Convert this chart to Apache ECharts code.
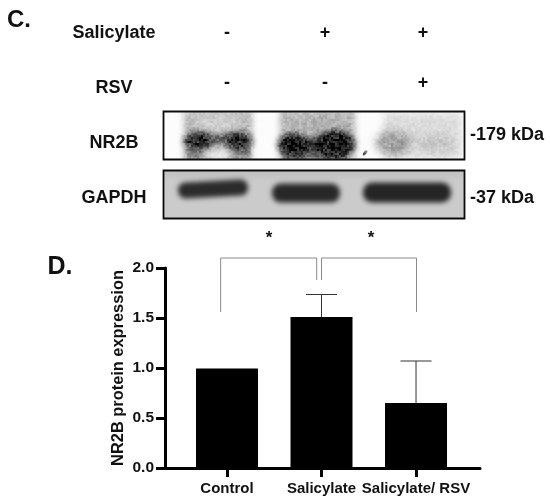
<!DOCTYPE html>
<html><head><meta charset="utf-8">
<style>html,body{margin:0;padding:0;background:#fff}#c{width:550px;height:502px}</style>
<script src="https://cdn.jsdelivr.net/npm/echarts@6/dist/echarts.min.js"></script>
</head><body><div id="c"></div>
<script>
const categories = ['Control', 'Salicylate', 'Salicylate/ RSV'];
const positions = [0, 1, 2];
const means = [0.995, 1.51, 0.65];
const errorTops = [0.995, 1.735, 1.07];
const bracketLeft = [[-0.067, 1.56], [-0.067, 2.1], [0.949, 2.1], [0.949, 1.88]];
const bracketRight = [[1.0, 1.88], [1.0, 2.1], [2.005, 2.1], [2.005, 1.56]];
const salicylateRow = ['-', '+', '+'];
const rsvRow = ['-', '-', '+'];

const FONT = '"Liberation Sans", Arial, sans-serif';
const chart = echarts.init(document.getElementById('c'), null, {renderer: 'canvas'});

function txt(x, y, text, size, extra) {
  return {type: 'text', x, y, z: 20, style: Object.assign({text, fill: '#111', font: 'bold ' + size + 'px ' + FONT, textAlign: 'center', textVerticalAlign: 'middle'}, extra || {})};
}
// Photographic blot texture (picture only, no chart data)
function hash(x, y) { const s = Math.sin(x * 127.1 + y * 311.7) * 43758.5453; return s - Math.floor(s); }
function paintBlot(w, h, bg, shapes, grain) {
  const cv = document.createElement('canvas'); cv.width = w; cv.height = h;
  const c = cv.getContext('2d');
  c.fillStyle = bg; c.fillRect(0, 0, w, h);
  shapes.forEach(s => {
    c.filter = 'blur(' + s.blur + 'px)'; c.fillStyle = s.color; c.beginPath();
    if (s.rect) c.rect(s.rect[0], s.rect[1], s.rect[2], s.rect[3]);
    else if (s.round) {
      const r = s.round;
      c.save(); c.translate(r[0], r[1]); c.rotate(s.rot || 0);
      c.roundRect(-r[2] / 2, -r[3] / 2, r[2], r[3], r[3] / 2.2);
      c.restore();
    }
    else c.ellipse(s.e[0], s.e[1], s.e[2], s.e[3], s.rot || 0, 0, 7);
    c.fill();
  });
  c.filter = 'none';
  if (grain) {
    const im = c.getImageData(0, 0, w, h), d = im.data;
    for (let y = 0; y < h; y++) for (let x = 0; x < w; x++) {
      const n = 0.6 * hash(x >> 1, y >> 1) + 0.4 * hash(x >> 2, (y >> 2) + 50) - 0.5;
      const i = (y * w + x) * 4, dark = 255 - d[i];
      const v = 255 - Math.max(0, Math.min(255, dark * (1 + grain * n)));
      d[i] = d[i + 1] = d[i + 2] = v;
    }
    c.putImageData(im, 0, 0);
  }
  return cv;
}
const nr2bCanvas = paintBlot(301, 49, '#fcfcfc', [
  {rect: [21, 0, 68, 49], color: '#b8b8b8', blur: 3},
  {e: [55, 12, 24, 9], color: '#cfcfcf', blur: 4},
  {rect: [23, 36, 64, 13], color: '#8c8c8c', blur: 2},
  {e: [36, 30, 15, 9], color: '#262626', blur: 3},
  {e: [75, 30, 14, 9], color: '#262626', blur: 3},
  {rect: [46, 24, 20, 8], color: '#555', blur: 2.5},
  {e: [55, 44, 15, 7], color: '#e8e8e8', blur: 3},
  {rect: [117, 0, 75, 49], color: '#b4b4b4', blur: 3},
  {rect: [120, 40, 65, 9], color: '#707070', blur: 2},
  {e: [130, 34, 15, 11], color: '#161616', blur: 3},
  {e: [172, 33, 20, 13], color: '#0c0c0c', blur: 3},
  {rect: [135, 28, 32, 13], color: '#2a2a2a', blur: 2.5},
  {rect: [220, 2, 78, 45], color: '#dcdcdc', blur: 3},
  {e: [231, 32, 18, 12], color: '#a0a0a0', blur: 4},
  {e: [273, 33, 19, 10], color: '#c8c8c8', blur: 4},
  {e: [202, 42, 3, 1.5], rot: -0.8, color: '#555', blur: 0.5}
], 0.6);
const gapdhCanvas = paintBlot(301, 49, '#cbcbcb', [
  {rect: [0, 0, 301, 6], color: '#bdbdbd', blur: 3},
  {round: [50, 19, 70, 16], rot: -0.05, color: '#2b2b2b', blur: 2.5},
  {round: [143, 23, 68, 19], color: '#282828', blur: 2.5},
  {round: [244, 22.5, 88, 20], color: '#252525', blur: 2.5}
], 0);

const rowX = [227, 325, 423];
const graphics = [
  txt(19, 20, 'C.', 24),
  txt(114, 33, 'Salicylate', 18),
  txt(114, 88, 'RSV', 18),
  txt(114, 143, 'NR2B', 18),
  txt(114, 198, 'GAPDH', 18),
  txt(470, 135, '-179 kDa', 18, {textAlign: 'left'}),
  txt(470, 198, '-37 kDa', 18, {textAlign: 'left'}),
  txt(269, 238, '*', 17),
  txt(371, 238, '*', 17),
  txt(60, 267, 'D.', 25)
];
salicylateRow.forEach((s, i) => graphics.push(txt(rowX[i], 33, s, 18)));
rsvRow.forEach((s, i) => graphics.push(txt(rowX[i], 83, s, 18)));
[[111, nr2bCanvas], [170, gapdhCanvas]].forEach(([y, cv]) => {
  graphics.push({type: 'image', z: 3, x: 163, y, silent: true, style: {image: cv, width: 301, height: 49}});
  graphics.push({type: 'rect', z: 10, silent: true, shape: {x: 163.5, y: y + 0.5, width: 301, height: 48}, style: {fill: 'none', stroke: '#0a0a0a', lineWidth: 1.8}});
});

function errorRender(params, api) {
  const x = api.value(0), lo = api.coord([x, api.value(1)]), hi = api.coord([x, api.value(2)]);
  const s = {stroke: '#333', lineWidth: 1};
  return {type: 'group', children: [
    {type: 'line', shape: {x1: lo[0], y1: lo[1], x2: hi[0], y2: hi[1]}, style: s},
    {type: 'line', shape: {x1: hi[0] - 15.5, y1: hi[1], x2: hi[0] + 15.5, y2: hi[1]}, style: s}
  ]};
}
const bracketSeries = d => ({type: 'line', data: d, symbol: 'none', clip: false, silent: true, animation: false, z: 1,
  lineStyle: {color: '#8a8a8a', width: 1}});

chart.setOption({
  animation: false,
  backgroundColor: '#fff',
  graphic: {elements: graphics},
  grid: {left: 165, top: 268, width: 315, height: 200, containLabel: false},
  xAxis: {
    type: 'value', min: -0.656, max: 2.677, splitLine: {show: false},
    axisLine: {show: true, onZero: false, lineStyle: {color: '#000', width: 3}},
    axisTick: {show: true, customValues: positions, length: 9, lineStyle: {color: '#000', width: 3}},
    axisLabel: {show: true, customValues: positions, margin: 13, color: '#111', fontFamily: FONT, fontWeight: 'bold', fontSize: 15,
      formatter: v => categories[Math.round(v)]}
  },
  yAxis: {
    type: 'value', min: 0, max: 2, interval: 0.5, splitLine: {show: false},
    name: 'NR2B protein expression', nameLocation: 'middle', nameGap: 47, nameRotate: 90, nameMoveOverlap: false,
    nameTextStyle: {color: '#111', fontFamily: FONT, fontWeight: 'bold', fontSize: 16.4, verticalAlign: 'middle'},
    axisLine: {show: true, onZero: false, lineStyle: {color: '#000', width: 3}},
    axisTick: {show: true, length: 9, lineStyle: {color: '#000', width: 3}},
    axisLabel: {margin: 11, color: '#111', fontFamily: FONT, fontWeight: 'bold', fontSize: 15.5, formatter: v => v.toFixed(1)}
  },
  series: [
    {type: 'bar', barWidth: 62, data: positions.map((p, i) => [p, means[i]]), itemStyle: {color: '#000'}, silent: true, z: 3},
    {type: 'custom', renderItem: errorRender, data: positions.map((p, i) => [p, means[i], errorTops[i]]).filter(d => d[2] > d[1]), silent: true, z: 2},
    bracketSeries(bracketLeft),
    bracketSeries(bracketRight)
  ]
});
</script></body></html>
